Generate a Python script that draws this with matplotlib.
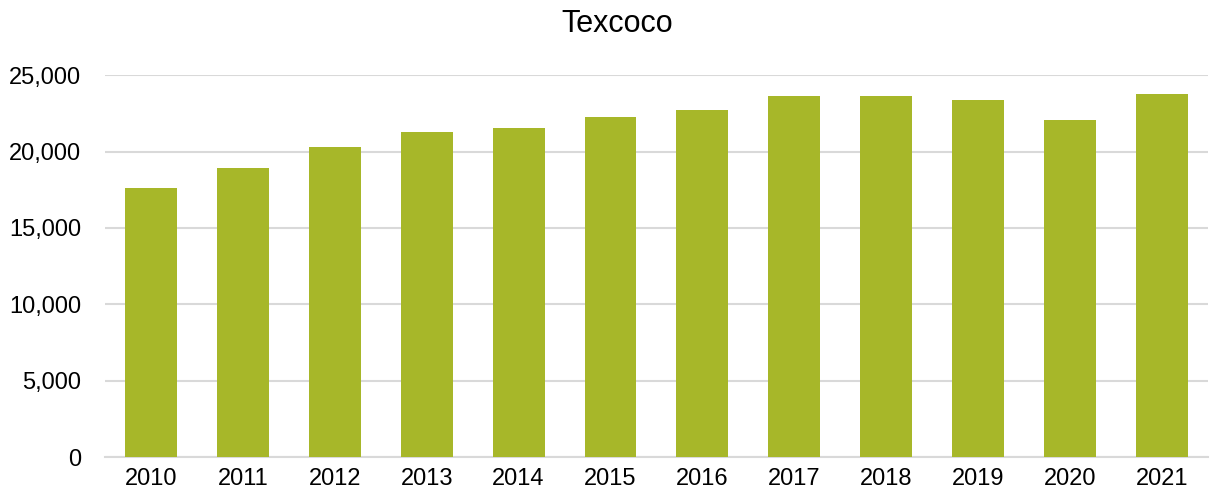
import matplotlib.pyplot as plt
from matplotlib.ticker import FuncFormatter

plt.rcParams['font.family'] = ['Liberation Sans', 'DejaVu Sans']

years = ['2010', '2011', '2012', '2013', '2014', '2015',
         '2016', '2017', '2018', '2019', '2020', '2021']
values = [17590, 18900, 20330, 21270, 21510, 22280,
          22700, 23620, 23620, 23360, 22060, 23750]

fig = plt.figure(figsize=(12.11, 4.98), dpi=100)
ax = fig.add_axes([0.0867, 0.0823, 0.9108, 0.7667])

x = list(range(len(years)))
ax.bar(x, values, width=0.565, color='#a7b729', zorder=3)

ax.set_xlim(-0.5, len(years) - 0.5)
ax.set_ylim(0, 25000)
ax.set_yticks(range(0, 25001, 5000))
ax.yaxis.set_major_formatter(FuncFormatter(lambda v, p: f'{int(v):,}'))
ax.set_xticks(x)
ax.set_xticklabels(years)

ax.grid(axis='y', color='#d9d9d9', linewidth=1.5, zorder=0)
for s in ['top', 'right', 'left']:
    ax.spines[s].set_visible(False)
ax.spines['bottom'].set_color('#d9d9d9')
ax.spines['bottom'].set_linewidth(1.5)
ax.tick_params(length=0, labelsize=17, colors='black')
ax.tick_params(axis='y', pad=17)
ax.tick_params(axis='x', pad=8)

# title sits a bit right of the figure centre in the original
fig.text(0.51, 0.952, 'Texcoco', ha='center', va='center', fontsize=22)

fig.savefig('out.png', dpi=100)
